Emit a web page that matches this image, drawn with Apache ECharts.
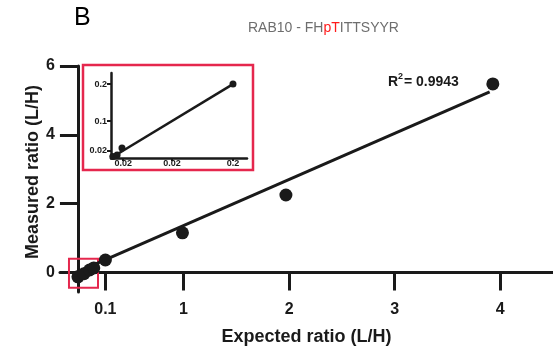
<!DOCTYPE html>
<html>
<head>
<meta charset="utf-8">
<script src="https://cdn.jsdelivr.net/npm/echarts@6/dist/echarts.min.js"></script>
<style>html,body{margin:0;padding:0;background:#fff;}#c{width:553px;height:354px;}</style>
</head>
<body>
<div id="c"></div>
<script>
// ---- data ----
const mainExpected = [0.0, 0.057, 0.11, 0.15, 0.26, 0.99, 1.97, 3.93];
const mainMeasured = [-0.13, -0.04, 0.07, 0.13, 0.36, 1.15, 2.25, 5.48];
const fitExpected = [-0.02, 3.9];
const fitMeasured = [-0.01, 5.25];
const insetExpected = [0.003, 0.01, 0.018, 0.2];
const insetMeasured = [0.004, 0.008, 0.027, 0.2];
const insetFitExpected = [0.004, 0.2];
const insetFitMeasured = [0.004, 0.2];
const xTickValues = [0.26, 1, 2, 3, 4];
const xTickLabels = ['0.1', '1', '2', '3', '4'];
const yTickValues = [0, 2, 4, 6];
const insetXTickValues = [0.02, 0.1, 0.2];
const insetXTickLabels = ['0.02', '0.02', '0.2'];
const insetYTickValues = [0.02, 0.1, 0.2];
const insetYTickLabels = ['0.02', '0.1', '0.2'];

const INK = '#1a1a1a';
const RED = '#e5274d';
const FONT = 'Liberation Sans, Arial, sans-serif';

const zip = (a, b) => a.map((v, i) => [v, b[i]]);

const chart = echarts.init(document.getElementById('c'), null, {renderer: 'canvas'});
chart.setOption({
  animation: false,
  backgroundColor: '#fff',
  grid: [
    {left: 60, top: 66, width: 493, height: 226, containLabel: false, outerBoundsMode: 'none'},
    {left: 111, top: 73, width: 136, height: 85, containLabel: false, outerBoundsMode: 'none'}
  ],
  xAxis: [
    {
      type: 'value', gridIndex: 0, min: -0.17, max: 4.5,
      splitLine: {show: false},
      axisLine: {show: true, onZero: true, lineStyle: {color: INK, width: 3}},
      axisTick: {show: true, length: 18, inside: false, lineStyle: {color: INK, width: 3}, customValues: xTickValues},
      axisLabel: {
        show: true, customValues: xTickValues, margin: 10,
        color: INK, fontFamily: FONT, fontWeight: 'bold', fontSize: 16,
        formatter: v => xTickLabels[xTickValues.indexOf(v)]
      },
      name: 'Expected ratio (L/H)', nameLocation: 'middle', nameGap: 36,
      nameTextStyle: {color: INK, fontFamily: FONT, fontWeight: 'bold', fontSize: 18}
    },
    {
      type: 'value', gridIndex: 1, min: 0, max: 0.223,
      splitLine: {show: false},
      axisLine: {show: true, onZero: false, lineStyle: {color: INK, width: 2.5}},
      axisTick: {show: true, length: 3, lineStyle: {color: INK, width: 2}, customValues: insetXTickValues},
      axisLabel: {
        show: true, customValues: insetXTickValues, margin: 1,
        color: INK, fontFamily: FONT, fontWeight: 'bold', fontSize: 9,
        formatter: v => insetXTickLabels[insetXTickValues.indexOf(v)]
      }
    }
  ],
  yAxis: [
    {
      type: 'value', gridIndex: 0, min: -0.57, max: 6,
      splitLine: {show: false},
      axisLine: {show: true, onZero: true, lineStyle: {color: INK, width: 3}},
      axisTick: {show: true, length: 18, lineStyle: {color: INK, width: 3}, customValues: yTickValues},
      axisLabel: {
        show: true, customValues: yTickValues, margin: 5,
        color: INK, fontFamily: FONT, fontWeight: 'bold', fontSize: 16
      }
    },
    {
      type: 'value', gridIndex: 1, min: 0, max: 0.23,
      splitLine: {show: false},
      axisLine: {show: true, onZero: false, lineStyle: {color: INK, width: 2.5}},
      axisTick: {show: true, length: 4, lineStyle: {color: INK, width: 2}, customValues: insetYTickValues},
      axisLabel: {
        show: true, customValues: insetYTickValues, margin: 4,
        color: INK, fontFamily: FONT, fontWeight: 'bold', fontSize: 9,
        formatter: v => insetYTickLabels[insetYTickValues.indexOf(v)]
      }
    }
  ],
  series: [
    {
      type: 'line', xAxisIndex: 0, yAxisIndex: 0,
      data: zip(fitExpected, fitMeasured), showSymbol: false, symbol: 'none',
      lineStyle: {color: INK, width: 3}, z: 3
    },
    {
      type: 'scatter', xAxisIndex: 0, yAxisIndex: 0,
      data: zip(mainExpected, mainMeasured), symbolSize: 13,
      itemStyle: {color: INK, opacity: 1}, z: 4,
      markArea: {
        silent: true,
        itemStyle: {color: 'rgba(0,0,0,0)', borderColor: RED, borderWidth: 2},
        data: [[{coord: [-0.085, -0.45]}, {coord: [0.19, 0.4]}]]
      }
    },
    {
      type: 'line', xAxisIndex: 1, yAxisIndex: 1,
      data: zip(insetFitExpected, insetFitMeasured), showSymbol: false, symbol: 'none',
      lineStyle: {color: INK, width: 2.5}, z: 3
    },
    {
      type: 'scatter', xAxisIndex: 1, yAxisIndex: 1,
      data: zip(insetExpected, insetMeasured), symbolSize: 7,
      itemStyle: {color: INK, opacity: 1}, z: 4
    }
  ],
  graphic: [
    {type: 'rect', shape: {x: 83, y: 65, width: 170, height: 105}, style: {fill: 'none', stroke: RED, lineWidth: 2.5}, z: 1, silent: true},
    {type: 'text', x: 74, y: 6, style: {text: 'B', fill: '#000', font: '25px Liberation Sans, Arial, sans-serif'}},
    {type: 'text', x: 248, y: 21, style: {
      text: 'RAB10 - FH{r|pT}ITTSYYR', fill: '#6e6e6e', fontSize: 14, fontFamily: FONT,
      rich: {r: {fill: '#ff1a1a', fontSize: 14, fontFamily: FONT}}
    }},
    {type: 'text', x: 388, y: 75, style: {text: 'R', fill: INK, font: 'bold 14px Liberation Sans, Arial, sans-serif'}},
    {type: 'text', x: 398, y: 72, style: {text: '2', fill: INK, font: 'bold 9px Liberation Sans, Arial, sans-serif'}},
    {type: 'text', x: 404, y: 75, style: {text: '= 0.9943', fill: INK, font: 'bold 14px Liberation Sans, Arial, sans-serif'}},
    {type: 'text', x: 33, y: 172, rotation: Math.PI / 2, style: {
      text: 'Measured ratio (L/H)', fill: INK, font: 'bold 18px Liberation Sans, Arial, sans-serif',
      align: 'center', verticalAlign: 'middle'
    }}
  ]
});
</script>
</body>
</html>
